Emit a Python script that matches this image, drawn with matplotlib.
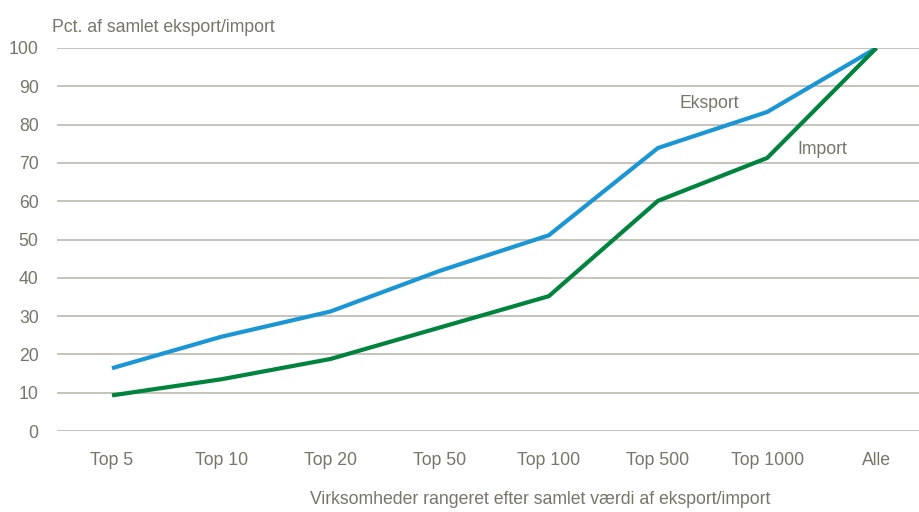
import numpy as np
import matplotlib
matplotlib.use("Agg")
import matplotlib.pyplot as plt

categories = ["Top 5", "Top 10", "Top 20", "Top 50", "Top 100", "Top 500", "Top 1000", "Alle"]
eksport = [16.4, 24.6, 31.2, 41.8, 51.1, 73.9, 83.3, 100.0]
importv = [9.3, 13.5, 18.8, 27.0, 35.2, 60.1, 71.3, 100.0]
yticks = [0, 10, 20, 30, 40, 50, 60, 70, 80, 90, 100]

plt.rcParams["font.family"] = ["Liberation Sans", "DejaVu Sans"]

txt = "#77756a"
grid_c = "#bcb9ae"
blue = "#1a96d4"
green = "#00843d"
fs = 12.7

fig = plt.figure(figsize=(9.19, 5.12), dpi=100)
ax = fig.add_axes([57.4 / 919, 81 / 512, (931 - 57.4) / 919, (431 - 48) / 512])

x = np.arange(len(categories))
ax.plot(x, eksport, color=blue, lw=3, solid_capstyle="butt", zorder=3)
ax.plot(x, importv, color=green, lw=3, solid_capstyle="butt", zorder=3)

ax.set_xlim(-0.5, len(categories) - 0.5)
ax.set_ylim(0, 100)
ax.set_yticks(yticks)
ax.set_xticks(x)
ax.set_xticklabels(categories)
ax.yaxis.grid(True, color=grid_c, lw=1.2)
ax.set_axisbelow(True)
for s in ax.spines.values():
    s.set_visible(False)
ax.tick_params(axis="both", length=0, colors=txt, labelsize=fs)
ax.tick_params(axis="x", pad=15)
ax.tick_params(axis="y", pad=13.5)

ax.text(5.2, 85.5, "Eksport", color=txt, fontsize=fs, ha="left", va="center")
ax.text(6.28, 73.5, "Import", color=txt, fontsize=fs, ha="left", va="center")

fig.text(52 / 919, 1 - 27 / 512, "Pct. af samlet eksport/import", color=txt,
         fontsize=fs, ha="left", va="center")
fig.text(540 / 919, 1 - 500 / 512, "Virksomheder rangeret efter samlet værdi af eksport/import",
         color=txt, fontsize=fs, ha="center", va="center")

fig.savefig("out.png", dpi=100)
